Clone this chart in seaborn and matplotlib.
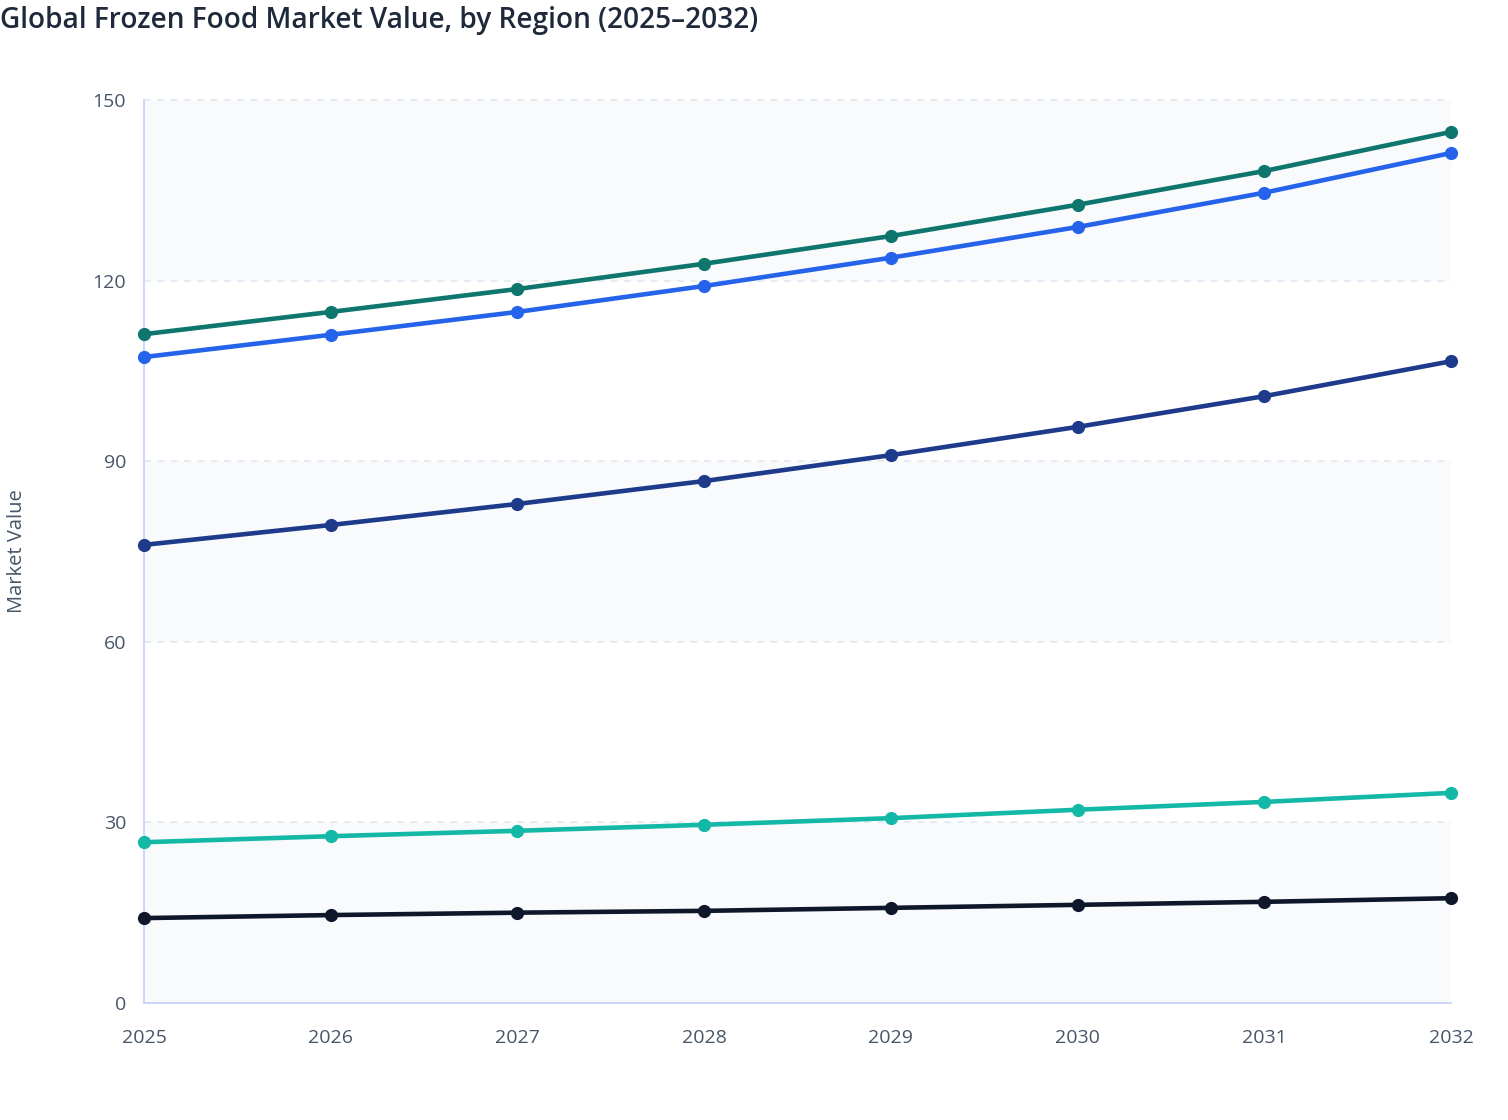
import numpy as np
import pandas as pd
import seaborn as sns
import matplotlib.pyplot as plt

# Data
years = [2025, 2026, 2027, 2028, 2029, 2030, 2031, 2032]
regions = ['Asia Pacific', 'Europe', 'North America', 'Latin America', 'Middle East & Africa']
asia_pacific = [111.1, 114.8, 118.6, 122.8, 127.4, 132.6, 138.2, 144.7]
europe = [107.3, 111.0, 114.8, 119.1, 123.8, 128.9, 134.6, 141.2]
north_america = [76.1, 79.4, 82.9, 86.7, 91.0, 95.7, 100.8, 106.6]
latin_america = [26.7, 27.7, 28.6, 29.6, 30.7, 32.1, 33.4, 34.9]
mea = [14.1, 14.6, 15.0, 15.3, 15.8, 16.3, 16.8, 17.4]
colors = ['#0f766e', '#2563eb', '#1e3a8a', '#14b8a6', '#0f172a']
y_ticks = [0, 30, 60, 90, 120, 150]

df = pd.DataFrame({
    'year': years * len(regions),
    'value': asia_pacific + europe + north_america + latin_america + mea,
    'region': np.repeat(regions, len(years)),
})

sns.set_style('white')
plt.rcParams['font.family'] = ['Open Sans', 'DejaVu Sans']

fig = plt.figure(figsize=(15.08, 11.2), dpi=100)
ax = fig.add_axes([0.0955, 0.1045, 0.8667, 0.8062])

# alternating background bands
for i in range(len(y_ticks) - 1):
    if i % 2 == 0:
        ax.axhspan(y_ticks[i], y_ticks[i + 1], color='#f8fafc', zorder=0, lw=0)
for t in y_ticks[1:]:
    ax.axhline(t, color='#e2e8f0', lw=1.2, ls=(0, (4, 4)), zorder=1)

sns.lineplot(data=df, x='year', y='value', hue='region', hue_order=regions,
             palette=colors, marker='o', markersize=9.5, markeredgewidth=0,
             linewidth=3.3, legend=False, ax=ax, zorder=3)
for line in ax.lines:
    line.set_clip_on(False)

ax.set_xlim(2025, 2032)
ax.set_ylim(0, 150)
ax.set_xticks(years)
ax.set_yticks(y_ticks)
ax.set_xlabel('')
ax.set_ylabel('')

for side in ['top', 'right']:
    ax.spines[side].set_visible(False)
for side in ['left', 'bottom']:
    ax.spines[side].set_color('#c7d2fe')
    ax.spines[side].set_linewidth(1.3)
ax.tick_params(axis='both', length=6, width=1.3, color='#c7d2fe',
               labelcolor='#475569', labelsize=14, pad=7)
ax.tick_params(axis='x', pad=13)

fig.text(0.0, 0.995, 'Global Frozen Food Market Value, by Region (2025–2032)',
         fontsize=20.2, fontweight='semibold', color='#1e293b', va='top', ha='left')
fig.text(0.011, 0.508, 'Market Value', rotation=90, fontsize=14.5,
         color='#475569', va='center', ha='center')

fig.savefig('out.png', dpi=100)
